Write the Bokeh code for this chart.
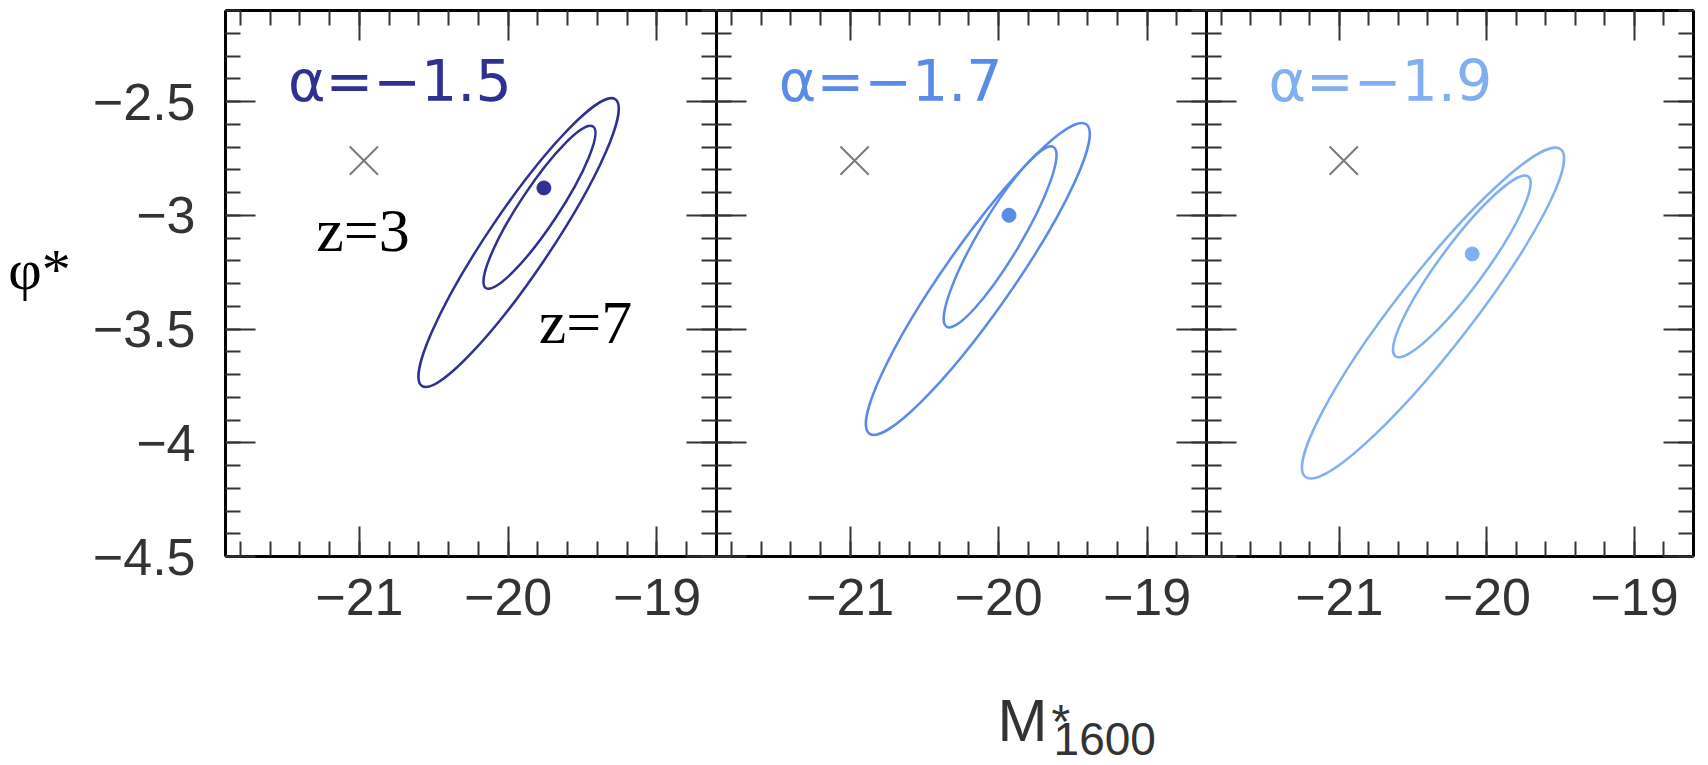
import math
import numpy as np
from bokeh.plotting import figure
from bokeh.layouts import row, column
from bokeh.models import Range1d, FixedTicker, LinearAxis
from bokeh.embed import file_html
from bokeh.resources import INLINE
from bokeh.core.properties import value

# ---------------- data ----------------
alpha_labels = ["α=−1.5", "α=−1.7", "α=−1.9"]
panel_colors = ["#2E3192", "#5B8BE9", "#80B0F2"]
best_x = [-19.76, -19.93, -20.10]
best_y = [-2.88, -3.00, -3.17]
z3_x = [-20.97, -20.97, -20.97]
z3_y = [-2.76, -2.76, -2.76]
# contour major-axis tips (upper-right, lower-left) and minor/major axis ratio
outer_tr_x = [-19.28, -19.41, -19.50]
outer_tr_y = [-2.49, -2.60, -2.71]
outer_bl_x = [-20.58, -20.87, -21.23]
outer_bl_y = [-3.75, -3.96, -4.15]
outer_ratio = [0.18, 0.18, 0.18]
inner_tr_x = [-19.43, -19.63, -19.72]
inner_tr_y = [-2.61, -2.70, -2.83]
inner_bl_x = [-20.15, -20.35, -20.62]
inner_bl_y = [-3.32, -3.49, -3.62]
inner_ratio = [0.20, 0.20, 0.20]

x_ticks = [-21, -20, -19]
x_tick_labels = ["−21", "−20", "−19"]
y_ticks = [-4.5, -4.0, -3.5, -3.0, -2.5]
y_tick_labels = ["−4.5", "−4", "−3.5", "−3", "−2.5"]
x_lim = (-21.9, -18.6)
y_lim = (-4.5, -2.1)

# ---------------- layout (pixels) ----------------
TOTAL_W = 1700
TOTAL_H = 765
TOP = 10
FRAME_H = 546
ROW_H = 640
STRIP_H = TOTAL_H - ROW_H
PHI_W = 70
LEFT1 = 225 - PHI_W
FRAME_W = [491, 490, 487]
RIGHT3 = TOTAL_W - PHI_W - LEFT1 - sum(FRAME_W)

x_minor = list(np.round(np.arange(-21.8, -18.59, 0.2), 2))
y_minor = list(np.round(np.arange(-4.5, -2.09, 0.1), 2))

TICK_COL = "#333333"
SY = FRAME_H / (y_lim[1] - y_lim[0])


def style_axis(ax, ticks, minor, labels=None, standoff=0):
    ax.ticker = FixedTicker(ticks=ticks, minor_ticks=minor)
    ax.axis_line_color = "black"
    ax.axis_line_width = 3
    ax.major_tick_in = 30
    ax.major_tick_out = 0
    ax.minor_tick_in = 15
    ax.minor_tick_out = 0
    ax.major_tick_line_color = TICK_COL
    ax.major_tick_line_width = 2
    ax.minor_tick_line_color = TICK_COL
    ax.minor_tick_line_width = 2
    if labels is None:
        ax.major_label_overrides = {float(t): "" for t in ticks}
        ax.major_label_text_font_size = "1px"
        ax.major_label_standoff = 0
    else:
        ax.major_label_overrides = {float(t): l for t, l in zip(ticks, labels)}
        ax.major_label_text_font = "Liberation Sans"
        ax.major_label_text_font_size = "52px"
        ax.major_label_text_color = TICK_COL
        ax.major_label_standoff = standoff


def blank_fig(w, h, xr, yr):
    f = figure(width=w, height=h, output_backend="svg", toolbar_location=None,
               x_range=Range1d(*xr), y_range=Range1d(*yr),
               x_axis_location=None, y_axis_location=None,
               min_border_left=0, min_border_right=0,
               min_border_top=0, min_border_bottom=0)
    f.outline_line_color = None
    f.xgrid.visible = False
    f.ygrid.visible = False
    f.border_fill_color = "white"
    return f


figs = []
for i in range(3):
    left = LEFT1 if i == 0 else 0
    right = RIGHT3 if i == 2 else 0
    w = left + FRAME_W[i] + right
    p = figure(width=w, height=ROW_H, output_backend="svg", toolbar_location=None,
               x_range=Range1d(*x_lim), y_range=Range1d(*y_lim),
               min_border_left=left, min_border_right=right,
               min_border_top=TOP, min_border_bottom=ROW_H - TOP - FRAME_H)
    p.outline_line_color = None
    p.xgrid.visible = False
    p.ygrid.visible = False
    p.background_fill_color = "white"
    p.border_fill_color = "white"

    style_axis(p.xaxis[0], x_ticks, x_minor, x_tick_labels, standoff=22)
    style_axis(p.yaxis[0], y_ticks, y_minor, y_tick_labels if i == 0 else None, standoff=30)
    top_ax = LinearAxis()
    style_axis(top_ax, x_ticks, x_minor)
    p.add_layout(top_ax, "above")
    right_ax = LinearAxis()
    style_axis(right_ax, y_ticks, y_minor)
    p.add_layout(right_ax, "right")

    sx = FRAME_W[i] / (x_lim[1] - x_lim[0])
    col = panel_colors[i]

    for trx, tr_y, blx, bly, ratio in (
        (outer_tr_x[i], outer_tr_y[i], outer_bl_x[i], outer_bl_y[i], outer_ratio[i]),
        (inner_tr_x[i], inner_tr_y[i], inner_bl_x[i], inner_bl_y[i], inner_ratio[i]),
    ):
        cx = (trx + blx) / 2
        cy = (tr_y + bly) / 2
        dxp = (trx - blx) * sx
        dyp = (tr_y - bly) * SY
        L = math.hypot(dxp, dyp)
        ang = math.atan2(dyp, dxp)
        p.ellipse(x=[cx], y=[cy], width=[L], height=[L * ratio], angle=[ang],
                  width_units="screen", height_units="screen",
                  fill_color=None, line_color=col, line_width=2.5)

    p.scatter(x=[best_x[i]], y=[best_y[i]], marker="circle", size=14,
              fill_color=col, line_color=col)
    p.scatter(x=[z3_x[i]], y=[z3_y[i]], marker="x", size=40,
              line_color="#7a7a7a", line_width=2)

    p.text(x=[-21.48], y=[-2.41], text=[alpha_labels[i]],
           text_font=value("DejaVu Sans"), text_font_size=value("57px"),
           text_color=col, text_baseline="middle", text_align="left")
    figs.append(p)

p1, p2, p3 = figs
p1.text(x=[-21.29], y=[-3.065], text=["z=3"], text_font=value("Liberation Serif"),
        text_font_size=value("62px"), text_color="black",
        text_baseline="middle", text_align="left")
p1.text(x=[-19.795], y=[-3.471], text=["z=7"], text_font=value("Liberation Serif"),
        text_font_size=value("62px"), text_color="black",
        text_baseline="middle", text_align="left")

# left strip holding the y-axis title (continues panel 1's scales)
sx1 = FRAME_W[0] / (x_lim[1] - x_lim[0])
phi_xr = (x_lim[0] - (PHI_W + LEFT1) / sx1, x_lim[0] - LEFT1 / sx1)
phi_yr = (y_lim[1] - (ROW_H - TOP) / SY, y_lim[1] + TOP / SY)
p_phi = blank_fig(PHI_W, ROW_H, phi_xr, phi_yr)
p_phi.text(x=[-23.36], y=[-3.389], text=["φ*"], text_font=value("Liberation Serif"),
           text_font_size=value("58px"), text_color="black",
           text_baseline="middle", text_align="left")

# bottom strip holding the x-axis title (continues panel 2's scales)
sx2 = FRAME_W[1] / (x_lim[1] - x_lim[0])
off2 = PHI_W + LEFT1 + FRAME_W[0]
xl_xr = (x_lim[0] - off2 / sx2, x_lim[0] + (TOTAL_W - off2) / sx2)
xl_yr = (y_lim[1] - (TOTAL_H - TOP) / SY, y_lim[1] - (ROW_H - TOP) / SY)
p_xl = blank_fig(TOTAL_W, STRIP_H, xl_xr, xl_yr)
p_xl.text(x=[-20.007], y=[-5.221], text=["M"], text_font=value("Liberation Sans"),
          text_font_size=value("60px"), text_color=TICK_COL,
          text_baseline="middle", text_align="left")
p_xl.text(x=[-19.644], y=[-5.225], text=["*"], text_font=value("Liberation Sans"),
          text_font_size=value("48px"), text_color=TICK_COL,
          text_baseline="middle", text_align="left")
p_xl.text(x=[-19.630], y=[-5.304], text=["1600"], text_font=value("Liberation Sans"),
          text_font_size=value("46px"), text_color=TICK_COL,
          text_baseline="middle", text_align="left")

layout = column(row(p_phi, p1, p2, p3, spacing=0), p_xl, spacing=0)
open("out.html", "w").write(file_html(layout, INLINE))
